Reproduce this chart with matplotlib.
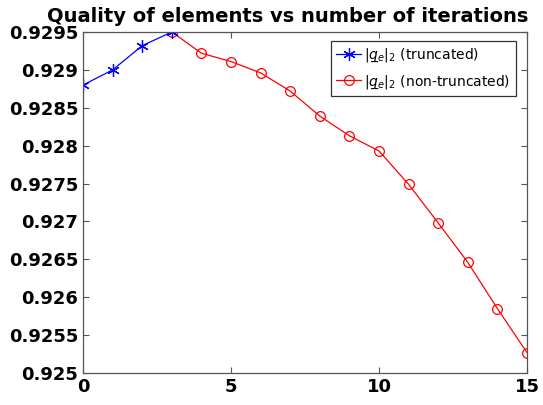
import matplotlib
matplotlib.use('Agg')
import matplotlib.pyplot as plt

# iterations and element quality values
iters_trunc = [0, 1, 2, 3]
quality_trunc = [0.92880, 0.92900, 0.92932, 0.92950]

iters_full = [3, 4, 5, 6, 7, 8, 9, 10, 11, 12, 13, 14, 15]
quality_full = [0.92950, 0.92922, 0.92911, 0.92896, 0.92872, 0.92839, 0.92813,
                0.92793, 0.92749, 0.92698, 0.92646, 0.92585, 0.92527]

yticks = [0.925, 0.9255, 0.926, 0.9265, 0.927, 0.9275, 0.928, 0.9285, 0.929, 0.9295]
ytick_labels = ['0.925', '0.9255', '0.926', '0.9265', '0.927', '0.9275',
                '0.928', '0.9285', '0.929', '0.9295']
xticks = [0, 5, 10, 15]

plt.rcParams.update({
    'font.family': 'DejaVu Sans',
    'mathtext.fontset': 'dejavusans',
})

# q with a combining low line under it
qe = '$|q\u0332_e|_2$'

fig = plt.figure(figsize=(5.43, 4.05), dpi=100)
ax = fig.add_axes([0.153, 0.079, 0.8175, 0.842])

ax.plot(iters_full, quality_full, color='red', marker='o', markersize=7,
        markerfacecolor='none', markeredgewidth=0.9, linewidth=0.9,
        label=qe + ' (non-truncated)')
ax.plot(iters_trunc, quality_trunc, color='blue', marker=(6, 2, 0), markersize=9,
        markeredgewidth=0.9, linewidth=0.9,
        label=qe + ' (truncated)')

ax.set_xlim(0, 15)
ax.set_ylim(0.925, 0.9295)
ax.set_xticks(xticks)
ax.set_xticklabels([str(t) for t in xticks], fontsize=13, fontweight='bold')
ax.set_yticks(yticks)
ax.set_yticklabels(ytick_labels, fontsize=13, fontweight='bold')
ax.tick_params(direction='in', top=True, right=True, length=4, color='#555555')
for sp in ax.spines.values():
    sp.set_color('#555555')
    sp.set_linewidth(0.9)

ax.set_title('Quality of elements vs number of iterations', fontsize=14,
             fontweight='bold', pad=7, x=0.462)

handles, labels = ax.get_legend_handles_labels()
leg = ax.legend(handles[::-1], labels[::-1], loc='upper right', fontsize=10,
                frameon=True, fancybox=False, handlelength=1.8,
                borderpad=0.4, labelspacing=0.6, handletextpad=0.2,
                bbox_to_anchor=(0.99, 0.995))
leg.get_frame().set_edgecolor('black')
leg.get_frame().set_linewidth(0.9)

fig.savefig('out.png', dpi=100)
